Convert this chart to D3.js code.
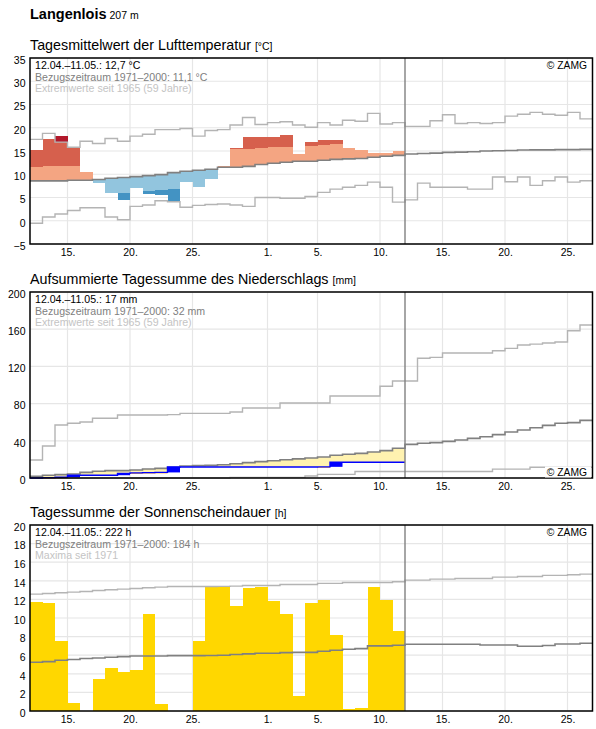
<!DOCTYPE html>
<html>
<head>
<meta charset="utf-8">
<script src="https://cdn.jsdelivr.net/npm/d3@7"></script>
<style>
body { margin: 0; background: #fff; }
svg { display: block; font-family: "Liberation Sans", Arial, sans-serif; }
</style>
</head>
<body>
<svg id="chart" width="596" height="729"></svg>
<script>
// dates: 12.04. bis 26.05. (45 Tage), gemessen bis 11.05. (30 Tage)
var startDay = "2023-04-12",
    endDay = "2023-05-27",
    nowDay = "2023-05-12";
var tickDays = ["2023-04-15", "2023-04-20", "2023-04-25", "2023-05-01", "2023-05-05",
    "2023-05-10", "2023-05-15", "2023-05-20", "2023-05-25"];

// Lufttemperatur [°C]
var tempTicks = [-5, 0, 5, 10, 15, 20, 25, 30, 35];
var tempClim = [8.57, 8.57, 8.57, 8.7, 8.7, 8.86, 9.14, 9.3, 9.5, 9.7, 9.93, 10.36, 10.64, 10.86, 11.07,
    11.5, 11.5, 11.7, 12.1, 12.36, 12.57, 12.79, 12.79, 13.0, 13.2, 13.3, 13.4, 13.64, 13.86, 14.07,
    14.35, 14.45, 14.55, 14.7, 14.75, 14.85, 15.0, 15.05, 15.1, 15.2, 15.25, 15.25, 15.3, 15.3, 15.35];
var tempMax = [17.5, 18.8, 16.9, 15.8, 17.1, 16.6, 17.7, 17.1, 18.2, 18.6, 19.6, 19.6, 19.85, 18.2, 19.4,
    19.6, 20.6, 22.2, 20.7, 21.1, 21.3, 20.6, 20.1, 21.1, 20.6, 21.6, 21.4, 23.1, 20.8, 21.1,
    20.3, 20.3, 21.5, 22.8, 20.9, 21.1, 20.9, 21.1, 22.5, 22.9, 23.3, 22.9, 22.7, 23.3, 21.9];
var tempMin = [-0.55, 0.8, 1.45, 2.2, 2.8, 2.8, 0.8, 0.2, 3.1, 3.4, 4.3, 4.1, 2.9, 3.3, 3.5,
    3.6, 3.4, 3.1, 5.0, 5.0, 4.85, 4.85, 5.2, 6.1, 6.8, 7.2, 7.6, 8.3, 7.2, 4.0,
    4.5, 8.1, 7.2, 7.2, 7.2, 6.8, 6.8, 9.4, 8.4, 9.4, 7.6, 8.6, 9.4, 8.3, 8.6];
var tempObs = [15.2, 17.57, 18.2, 15.7, 10.5, 8.2, 6.0, 4.5, 7.07, 5.86, 5.57, 4.3, 8.43, 7.3, 9.0,
    11.8, 15.64, 18.0, 18.0, 18.0, 18.5, 14.36, 16.93, 17.36, 17.36, 15.64, 15.2, 14.64, 14.64, 15.0];
// Klassengrenzen je Tag (hell -> mittel -> dunkel)
var tempWarm1 = [11.64, 11.8, 11.8, 11.8, 12.0, 12.1, 12.3, 12.5, 12.8, 13.0, 13.3, 13.6, 13.9, 14.1, 14.4,
    14.8, 15.43, 15.43, 15.64, 15.86, 15.86, 16.0, 16.07, 16.36, 16.57, 16.7, 16.8, 17.0, 17.2, 17.4];
var tempWarm2 = [16.5, 17.8, 17.0, 17.0, 17.2, 17.4, 17.6, 17.8, 18.0, 18.3, 18.6, 18.9, 19.2, 19.4, 19.6,
    19.8, 20.0, 20.2, 20.4, 20.5, 20.6, 20.7, 20.8, 20.9, 21.0, 21.1, 21.2, 21.3, 21.4, 21.5];
var tempCold1 = [5.2, 5.2, 5.3, 5.4, 5.5, 5.7, 5.8, 6.0, 6.3, 6.5, 6.64, 6.86, 7.0, 7.1, 7.3,
    7.6, 7.8, 8.0, 8.3, 8.5, 8.7, 8.9, 9.0, 9.2, 9.4, 9.5, 9.6, 9.8, 10.0, 10.2];

// Niederschlag [mm]
var precTicks = [0, 40, 80, 120, 160, 200];
var precClim = [1.8, 2.9, 3.6, 4.3, 6.1, 7.2, 7.9, 7.9, 8.6, 9.7, 10.4, 11.5, 12.9, 13.3, 13.6,
    14.3, 15.4, 16.5, 17.6, 18.6, 19.7, 20.6, 21.5, 22.6, 24.4, 25.5, 26.5, 28.0, 29.4, 32.0,
    36.2, 37.3, 38.0, 39.4, 40.9, 42.6, 44.4, 46.6, 49.5, 51.6, 54.1, 56.6, 58.8, 59.5, 62.0];
var precMax = [19.4, 34.4, 57.0, 58.8, 60.2, 64.2, 64.2, 67.7, 67.7, 67.7, 67.7, 68.1, 69.5, 69.5, 69.5,
    69.5, 71.0, 75.3, 75.3, 75.3, 80.6, 80.6, 80.6, 80.6, 88.2, 88.2, 88.2, 88.2, 98.6, 104.3,
    104.3, 128.7, 129.7, 134.4, 134.4, 134.4, 134.4, 136.9, 139.4, 143.0, 144.0, 145.2, 146.2, 158.4, 164.5];
var precMin = [0, 0, 0, 0, 0, 0, 0, 0, 0, 0, 0, 0, 0, 0, 0,
    0, 0.7, 0.7, 0.7, 0.7, 0.7, 0.7, 2.1, 3.9, 3.9, 3.9, 7.0, 7.0, 7.0, 7.0,
    7.0, 7.0, 7.0, 7.0, 7.0, 7.0, 7.0, 9.5, 9.5, 9.5, 11.5, 11.5, 11.5, 11.5, 11.5];
var precDaily = [0, 0.4, 0.4, 2.2, 0, 0, 0, 2.0, 0.5, 0.3, 0.2, 5.8, 0, 0, 0,
    0, 0, 0, 0, 0, 0, 0, 0, 0.2, 5.0, 0, 0, 0, 0, 0];

// Sonnenscheindauer [h]
var sunTicks = [0, 2, 4, 6, 8, 10, 12, 14, 16, 18, 20];
var sunClim = [5.24, 5.31, 5.46, 5.53, 5.64, 5.7, 5.78, 5.85, 5.92, 5.92, 5.92, 5.95, 5.95, 5.95, 5.97,
    6.0, 6.07, 6.14, 6.21, 6.21, 6.28, 6.3, 6.3, 6.43, 6.53, 6.64, 6.71, 7.0, 7.0, 7.07,
    7.18, 7.18, 7.18, 7.18, 7.18, 7.18, 7.1, 7.1, 7.1, 6.97, 6.97, 7.04, 7.2, 7.2, 7.29];
var sunMax = [12.57, 12.64, 12.71, 12.78, 12.85, 12.96, 13.03, 13.1, 13.18, 13.25, 13.32, 13.38, 13.38, 13.38, 13.38,
    13.4, 13.43, 13.5, 13.5, 13.5, 13.6, 13.6, 13.6, 13.72, 13.72, 13.82, 13.82, 13.82, 13.82, 13.9,
    14.07, 14.07, 14.18, 14.18, 14.25, 14.25, 14.25, 14.4, 14.4, 14.47, 14.47, 14.58, 14.58, 14.65, 14.72];
var sunObs = [11.74, 11.63, 7.54, 0.9, 0, 3.45, 4.63, 4.2, 4.42, 10.45, 0.75, 0, 0, 7.54, 13.4,
    13.4, 11.3, 13.25, 13.36, 11.85, 10.45, 1.6, 11.6, 11.96, 8.19, 0.2, 0.32, 13.36, 11.96, 8.6];

(function () {
    "use strict";
    var svg = d3.select("#chart"),
        parse = d3.utcParse("%Y-%m-%d"),
        start = parse(startDay),
        x = d3.scaleUtc()
            .domain([start, parse(endDay)])
            .range([30, 592.5]),
        day = function (i) { return d3.utcDay.offset(start, i); },
        gridColor = "#e6e6e6",
        climColor = "#808080",
        extremeColor = "#b4b4b4";

    // step path of daily values
    function steps(values, y) {
        var pts = values.map(function (v, i) { return [x(day(i)), y(v)]; });
        pts.push([x(day(values.length)), y(values[values.length - 1])]);
        return d3.line().curve(d3.curveStepAfter)(pts);
    }

    svg.append("text")
        .attr("x", 30).attr("y", 18.5)
        .style("font-size", "14.5px").style("font-weight", "bold")
        .text("Langenlois")
        .append("tspan")
        .style("font-size", "10.5px").style("font-weight", "normal")
        .text(" 207 m");

    function panel(p) {
        var g = svg.append("g"),
            y = d3.scaleLinear().domain(p.domain).range([p.bottom, p.top]);

        g.append("text")
            .attr("x", 30).attr("y", p.top - 8.5)
            .style("font-size", "14.3px")
            .text(p.title + " ")
            .append("tspan")
            .style("font-size", "10.5px")
            .text(p.unit);

        g.append("g").selectAll("line")
            .data(p.ticks)
            .enter().append("line")
            .attr("x1", x.range()[0]).attr("x2", x.range()[1])
            .attr("y1", function (d) { return y(d); })
            .attr("y2", function (d) { return y(d); })
            .attr("stroke", gridColor).attr("stroke-width", 1.2);

        g.append("g").selectAll("line")
            .data(tickDays.map(parse))
            .enter().append("line")
            .attr("x1", function (d) { return x(d); })
            .attr("x2", function (d) { return x(d); })
            .attr("y1", p.top).attr("y2", p.bottom)
            .attr("stroke", gridColor).attr("stroke-width", 1.2);

        p.draw(g.append("g"), y);

        g.append("line")
            .attr("x1", x(parse(nowDay))).attr("x2", x(parse(nowDay)))
            .attr("y1", p.top).attr("y2", p.bottom)
            .attr("stroke", climColor).attr("stroke-width", 1.4);

        g.append("rect")
            .attr("x", x.range()[0]).attr("y", p.top)
            .attr("width", x.range()[1] - x.range()[0])
            .attr("height", p.bottom - p.top)
            .attr("fill", "none").attr("stroke", "#000").attr("stroke-width", 1.5);

        var ya = g.append("g")
            .attr("transform", "translate(" + x.range()[0] + ",0)")
            .call(d3.axisLeft(y).tickValues(p.ticks).tickSize(0).tickPadding(4.5));
        ya.select(".domain").remove();
        ya.selectAll("text").attr("dy", "0.5em")
            .style("font-size", "10.5px").style("font-family", "Liberation Sans, Arial, sans-serif")
            .attr("fill", "#000");

        var xa = g.append("g")
            .attr("transform", "translate(0," + p.bottom + ")")
            .call(d3.axisBottom(x).tickValues(tickDays.map(parse))
                .tickFormat(d3.utcFormat("%-d.")).tickSize(0).tickPadding(5));
        xa.select(".domain").remove();
        xa.selectAll("text")
            .style("font-size", "10.5px").style("font-family", "Liberation Sans, Arial, sans-serif")
            .attr("fill", "#000");

        g.append("g").selectAll("text")
            .data(p.info)
            .enter().append("text")
            .attr("x", 35)
            .attr("y", function (d, i) { return p.top + 11 + i * 11.7; })
            .attr("fill", function (d, i) { return ["#000", "#808080", "#c4c4c4"][i]; })
            .style("font-size", "10.6px")
            .text(function (d) { return d; });

        var zy = p.zamgBottom ? p.bottom - 2.5 : p.top + 11,
            zg = g.append("g");
        zg.append("rect")
            .attr("x", 545).attr("y", zy - 9).attr("width", 46).attr("height", 11)
            .attr("fill", p.zamgBottom ? "#fff" : "none");
        zg.append("text")
            .attr("x", 587).attr("y", zy)
            .attr("text-anchor", "end")
            .style("font-size", "10.3px")
            .text("© ZAMG");
    }

    // Temperatur
    panel({
        title: "Tagesmittelwert der Lufttemperatur", unit: "[°C]",
        top: 58, bottom: 244, domain: [-5, 35], ticks: tempTicks,
        info: ["12.04.–11.05.: 12,7 °C", "Bezugszeitraum 1971–2000: 11,1 °C", "Extremwerte seit 1965 (59 Jahre)"],
        draw: function (g, y) {
            var segs = [];
            tempObs.forEach(function (v, i) {
                var m = tempClim[i];
                if (v >= m) {
                    segs.push({i: i, lo: m, hi: Math.min(v, tempWarm1[i]), c: "#f4a582"});
                    if (v > tempWarm1[i]) { segs.push({i: i, lo: tempWarm1[i], hi: Math.min(v, tempWarm2[i]), c: "#d6604d"}); }
                    if (v > tempWarm2[i]) { segs.push({i: i, lo: tempWarm2[i], hi: v, c: "#b2182b"}); }
                } else {
                    segs.push({i: i, lo: Math.max(v, tempCold1[i]), hi: m, c: "#92c5de"});
                    if (v < tempCold1[i]) { segs.push({i: i, lo: v, hi: tempCold1[i], c: "#4393c3"}); }
                }
            });
            g.selectAll("rect")
                .data(segs)
                .enter().append("rect")
                .attr("x", function (d) { return x(day(d.i)); })
                .attr("width", function (d) { return x(day(d.i + 1)) - x(day(d.i)); })
                .attr("y", function (d) { return y(d.hi); })
                .attr("height", function (d) { return y(d.lo) - y(d.hi); })
                .attr("fill", function (d) { return d.c; })
                .attr("shape-rendering", "crispEdges");
            [[tempMax, extremeColor, 1.4], [tempMin, extremeColor, 1.4], [tempClim, climColor, 1.6]].forEach(function (s) {
                g.append("path").attr("d", steps(s[0], y))
                    .attr("fill", "none").attr("stroke", s[1]).attr("stroke-width", s[2]);
            });
        }
    });

    // Niederschlag
    panel({
        title: "Aufsummierte Tagessumme des Niederschlags", unit: "[mm]",
        top: 292, bottom: 478, domain: [0, 200], ticks: precTicks, zamgBottom: true,
        info: ["12.04.–11.05.: 17 mm", "Bezugszeitraum 1971–2000: 32 mm", "Extremwerte seit 1965 (59 Jahre)"],
        draw: function (g, y) {
            var cum = Array.from(d3.cumsum(precDaily)),
                n = cum.length,
                pts = cum.map(function (v, i) { return {i: i, lo: v, hi: precClim[i]}; });
            pts.push({i: n, lo: cum[n - 1], hi: precClim[n - 1]});
            g.append("path")
                .attr("d", d3.area().curve(d3.curveStepAfter)
                    .x(function (d) { return x(day(d.i)); })
                    .y0(function (d) { return y(d.lo); })
                    .y1(function (d) { return y(Math.max(d.lo, d.hi)); })(pts))
                .attr("fill", "#fff2b0");
            [[precMax, extremeColor, 1.4], [precMin, extremeColor, 1.4], [precClim, climColor, 1.6]].forEach(function (s) {
                g.append("path").attr("d", steps(s[0], y))
                    .attr("fill", "none").attr("stroke", s[1]).attr("stroke-width", s[2]);
            });
            g.append("g").selectAll("rect")
                .data(precDaily.map(function (v, i) { return {i: i, v: v, c: cum[i]}; })
                    .filter(function (d) { return d.v > 0; }))
                .enter().append("rect")
                .attr("x", function (d) { return x(day(d.i)); })
                .attr("width", function (d) { return x(day(d.i + 1)) - x(day(d.i)); })
                .attr("y", function (d) { return y(d.c); })
                .attr("height", function (d) { return Math.max(1, y(d.c - d.v) - y(d.c)); })
                .attr("fill", function (d) { return d.v >= 1 ? "#0000ff" : "#ffae3a"; });
            g.append("path").attr("d", steps(cum, y))
                .attr("fill", "none").attr("stroke", "#0000ff").attr("stroke-width", 1.4);
        }
    });

    // Sonnenschein
    panel({
        title: "Tagessumme der Sonnenscheindauer", unit: "[h]",
        top: 525, bottom: 711, domain: [0, 20], ticks: sunTicks,
        info: ["12.04.–11.05.: 222 h", "Bezugszeitraum 1971–2000: 184 h", "Maxima seit 1971"],
        draw: function (g, y) {
            g.selectAll("rect")
                .data(sunObs)
                .enter().append("rect")
                .attr("x", function (d, i) { return x(day(i)); })
                .attr("width", function (d, i) { return x(day(i + 1)) - x(day(i)); })
                .attr("y", function (d) { return y(d); })
                .attr("height", function (d) { return y(0) - y(d); })
                .attr("fill", "#ffd700")
                .attr("shape-rendering", "crispEdges");
            [[sunMax, extremeColor, 1.4], [sunClim, climColor, 1.6]].forEach(function (s) {
                g.append("path").attr("d", steps(s[0], y))
                    .attr("fill", "none").attr("stroke", s[1]).attr("stroke-width", s[2]);
            });
        }
    });
}());
</script>
</body>
</html>
